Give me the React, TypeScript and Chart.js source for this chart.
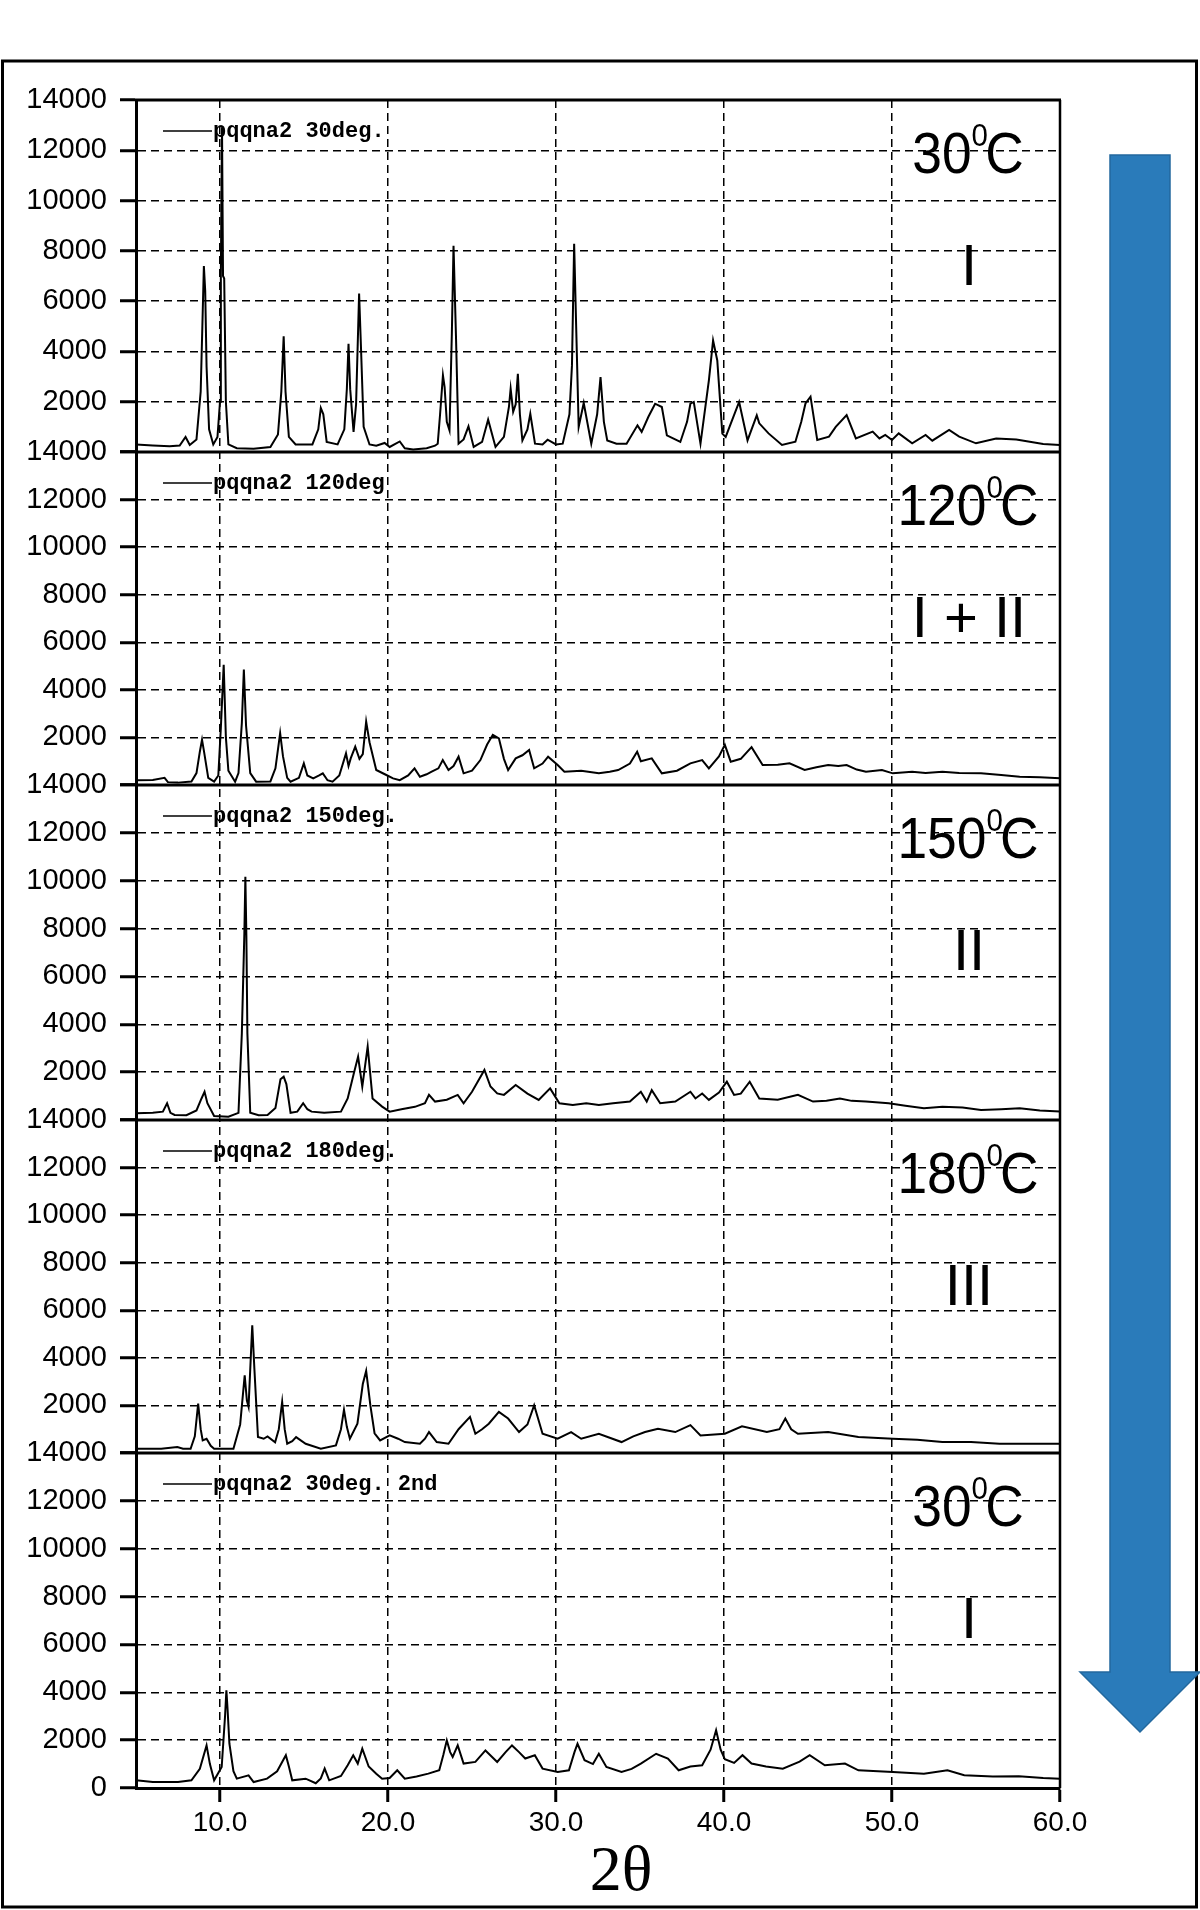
import React, { useEffect, useRef } from 'react';
import { Chart, registerables } from 'chart.js';

Chart.register(...registerables);

// ---- data (2θ, intensity) ----
const xrd30First: [number, number][] = [
  [5.0, 300], [6.0, 260], [7.0, 230], [7.6, 260], [7.95, 600], [8.2, 280], [8.6, 500], [8.85, 2400], [8.95, 5000],
  [9.04, 7400], [9.12, 6400], [9.2, 3400], [9.35, 900], [9.6, 300], [9.85, 600], [10.0, 2000], [10.05, 7000],
  [10.12, 12900], [10.18, 7000], [10.25, 6900], [10.35, 2000], [10.5, 300], [11.0, 150], [12.0, 130], [13.0, 200],
  [13.45, 700], [13.65, 2400], [13.79, 4600], [13.9, 2400], [14.1, 600], [14.5, 300], [15.5, 300], [15.85, 900],
  [16.0, 1750], [16.15, 1500], [16.35, 400], [17.0, 300], [17.4, 900], [17.55, 2500], [17.65, 4300], [17.75, 2500],
  [17.95, 800], [18.1, 1900], [18.28, 6300], [18.4, 4000], [18.55, 1000], [18.9, 300], [19.3, 250], [19.8, 360],
  [20.1, 200], [20.7, 420], [21.0, 150], [21.5, 100], [22.3, 150], [22.8, 250], [22.96, 330], [23.1, 1500],
  [23.27, 3050], [23.37, 2580], [23.5, 1200], [23.66, 860], [23.8, 4700], [23.9, 8200], [24.05, 4500], [24.2, 330],
  [24.5, 500], [24.79, 1020], [25.1, 200], [25.6, 400], [25.96, 1285], [26.4, 200], [26.9, 600], [27.2, 1800],
  [27.3, 2520], [27.45, 1600], [27.6, 1900], [27.73, 3110], [27.85, 1500], [28.0, 460], [28.3, 900], [28.47, 1520],
  [28.75, 330], [29.2, 300], [29.5, 490], [30.0, 300], [30.4, 330], [30.8, 1500], [30.95, 3445], [31.08, 8280],
  [31.2, 5000], [31.35, 1000], [31.65, 1950], [32.1, 330], [32.45, 1500], [32.65, 2980], [32.85, 1200], [33.05, 460],
  [33.6, 330], [34.2, 330], [34.85, 1060], [35.1, 800], [35.5, 1400], [35.9, 1920], [36.3, 1790], [36.6, 660],
  [37.4, 400], [37.8, 1200], [38.0, 1920], [38.2, 1990], [38.6, 330], [39.1, 2850], [39.35, 4440], [39.6, 3640],
  [39.9, 730], [40.1, 600], [40.5, 1300], [40.9, 1990], [41.4, 460], [41.95, 1460], [42.1, 1140], [42.65, 740],
  [43.45, 280], [44.25, 410], [44.6, 1200], [44.85, 1930], [45.15, 2200], [45.55, 480], [46.25, 610], [46.65, 1000],
  [47.3, 1470], [47.85, 540], [48.85, 810], [49.25, 540], [49.6, 680], [50.0, 480], [50.4, 740], [51.2, 345],
  [52.0, 680], [52.4, 450], [53.4, 875], [54.0, 610], [55.0, 345], [56.2, 540], [57.4, 500], [59.0, 320],
  [60.0, 280],
];

const xrd120: [number, number][] = [
  [5.0, 200], [6.0, 210], [6.7, 300], [6.9, 120], [7.5, 100], [8.3, 150], [8.6, 500], [8.8, 1400], [8.93, 1900],
  [9.05, 1400], [9.3, 300], [9.65, 140], [9.9, 400], [10.05, 2400], [10.22, 5050], [10.35, 2000], [10.5, 600],
  [10.9, 140], [11.1, 500], [11.3, 2600], [11.42, 4850], [11.55, 2500], [11.8, 500], [12.15, 140], [13.0, 150],
  [13.3, 700], [13.58, 2180], [13.75, 1200], [14.0, 300], [14.2, 140], [14.7, 300], [14.99, 910], [15.2, 400],
  [15.55, 280], [15.9, 400], [16.12, 490], [16.4, 200], [16.7, 140], [17.1, 400], [17.5, 1330], [17.65, 800],
  [17.78, 1120], [18.05, 1610], [18.3, 1100], [18.5, 1300], [18.7, 2670], [18.9, 1800], [19.3, 630], [19.9, 420],
  [20.3, 280], [20.7, 200], [21.2, 400], [21.58, 700], [21.9, 350], [22.3, 450], [22.6, 560], [23.0, 700],
  [23.26, 1050], [23.6, 630], [23.9, 800], [24.2, 1190], [24.5, 490], [25.0, 600], [25.5, 1050], [25.9, 1700],
  [26.24, 2110], [26.6, 1960], [26.9, 1100], [27.15, 630], [27.6, 1120], [28.0, 1250], [28.4, 1470], [28.7, 700],
  [29.2, 900], [29.53, 1190], [30.1, 840], [30.5, 560], [31.5, 600], [32.55, 490], [33.2, 560], [33.7, 630],
  [34.4, 900], [34.83, 1400], [35.05, 1000], [35.7, 1120], [36.3, 490], [37.2, 600], [38.0, 910], [38.7, 1050],
  [39.1, 700], [39.7, 1200], [40.05, 1690], [40.4, 980], [41.0, 1100], [41.64, 1590], [42.3, 840], [43.2, 850],
  [43.9, 910], [44.8, 630], [45.5, 750], [46.2, 840], [46.8, 800], [47.3, 840], [47.9, 650], [48.45, 560],
  [49.4, 630], [50.05, 490], [51.2, 560], [52.0, 500], [53.0, 560], [54.0, 500], [55.3, 490], [56.5, 420],
  [57.6, 350], [58.8, 330], [60.0, 280],
];

const xrd150: [number, number][] = [
  [5.0, 280], [6.0, 300], [6.6, 350], [6.85, 700], [7.05, 300], [7.3, 210], [8.0, 200], [8.6, 400], [8.9, 900],
  [9.08, 1180], [9.25, 700], [9.65, 170], [10.5, 140], [11.1, 300], [11.3, 3620], [11.45, 7800], [11.51, 10170],
  [11.57, 7700], [11.63, 3620], [11.8, 300], [12.3, 200], [12.83, 210], [13.3, 500], [13.6, 1700], [13.79, 1810],
  [13.95, 1500], [14.2, 300], [14.6, 350], [14.95, 700], [15.2, 450], [15.45, 350], [16.2, 300], [17.2, 350],
  [17.6, 900], [17.95, 1900], [18.22, 2650], [18.47, 1390], [18.79, 3065], [19.08, 900], [19.65, 560], [20.1, 350],
  [20.8, 450], [21.6, 550], [22.2, 700], [22.44, 1050], [22.8, 770], [23.5, 850], [24.15, 1050], [24.5, 700],
  [25.0, 1180], [25.74, 2090], [26.1, 1400], [26.5, 1110], [26.9, 1050], [27.6, 1460], [28.3, 1100], [28.97, 840],
  [29.65, 1320], [30.2, 700], [31.0, 630], [31.8, 700], [32.55, 630], [33.4, 700], [34.4, 770], [35.05, 1180],
  [35.4, 770], [35.7, 1250], [36.2, 700], [37.1, 770], [38.0, 1180], [38.3, 900], [38.7, 1110], [39.1, 840],
  [39.7, 1150], [40.17, 1600], [40.6, 1050], [41.0, 1100], [41.53, 1600], [42.1, 900], [43.2, 850], [44.4, 1050],
  [45.3, 770], [46.1, 800], [46.9, 900], [47.6, 800], [48.45, 770], [49.8, 700], [50.8, 600], [51.9, 490],
  [53.0, 550], [54.2, 520], [55.3, 420], [56.5, 450], [57.6, 490], [58.8, 400], [60.0, 350],
];

const xrd180: [number, number][] = [
  [5.0, 180], [6.5, 180], [7.46, 250], [7.8, 180], [8.25, 180], [8.5, 700], [8.7, 2080], [8.85, 1000], [8.97, 530],
  [9.2, 600], [9.45, 300], [9.65, 180], [10.8, 180], [11.2, 1200], [11.47, 3270], [11.6, 2200], [11.7, 1940],
  [11.85, 4300], [11.92, 5370], [12.05, 3500], [12.26, 670], [12.6, 600], [12.83, 700], [13.28, 450], [13.5, 1000],
  [13.7, 2150], [13.85, 1000], [14.0, 390], [14.3, 500], [14.53, 670], [15.1, 390], [16.0, 180], [16.9, 320],
  [17.2, 1000], [17.38, 1820], [17.55, 1100], [17.73, 600], [18.18, 1230], [18.5, 2900], [18.7, 3450], [18.95, 2000],
  [19.2, 830], [19.53, 530], [20.1, 740], [20.6, 600], [21.0, 460], [21.9, 390], [22.2, 600], [22.44, 880],
  [22.9, 460], [23.6, 390], [24.2, 1000], [24.88, 1520], [25.2, 810], [25.6, 1000], [26.0, 1230], [26.6, 1730],
  [27.15, 1450], [27.8, 880], [28.3, 1200], [28.7, 2010], [29.2, 810], [30.1, 600], [30.9, 880], [31.5, 600],
  [32.55, 810], [33.9, 460], [34.6, 700], [35.3, 880], [36.07, 1020], [37.1, 880], [38.0, 1170], [38.6, 740],
  [40.05, 810], [41.07, 1120], [42.55, 880], [43.3, 1000], [43.65, 1450], [44.0, 1000], [44.4, 810], [46.2, 880],
  [48.0, 670], [50.05, 600], [51.5, 560], [53.0, 460], [54.7, 460], [56.4, 390], [58.0, 390], [60.0, 390],
];

const xrd30Second: [number, number][] = [
  [5.0, 320], [6.0, 250], [7.5, 250], [8.3, 320], [8.8, 800], [9.2, 1780], [9.4, 1000], [9.65, 320], [10.1, 880],
  [10.3, 3000], [10.38, 4080], [10.45, 3300], [10.56, 1850], [10.8, 700], [11.0, 390], [11.7, 530], [12.0, 250],
  [12.8, 390], [13.4, 700], [13.92, 1370], [14.1, 900], [14.3, 320], [15.1, 390], [15.7, 200], [16.0, 400],
  [16.23, 810], [16.5, 320], [17.2, 500], [17.6, 950], [17.93, 1370], [18.2, 1020], [18.47, 1640], [18.85, 900],
  [19.3, 600], [19.65, 390], [20.1, 420], [20.55, 740], [21.0, 390], [21.7, 480], [22.4, 600], [23.05, 740],
  [23.3, 1400], [23.5, 1990], [23.7, 1500], [23.85, 1300], [24.15, 1780], [24.5, 1020], [25.2, 1090], [25.8, 1570],
  [26.5, 1090], [27.0, 1500], [27.38, 1780], [27.8, 1500], [28.17, 1230], [28.74, 1370], [29.2, 810], [30.1, 670],
  [30.77, 740], [31.1, 1500], [31.28, 1850], [31.7, 1160], [32.2, 1000], [32.55, 1430], [33.0, 880], [33.9, 670],
  [34.5, 800], [35.05, 1020], [35.96, 1430], [36.66, 1230], [37.3, 740], [38.0, 900], [38.7, 950], [39.2, 1600],
  [39.53, 2410], [39.8, 1600], [40.05, 1200], [40.6, 1050], [41.1, 1370], [41.64, 1020], [42.5, 900], [43.5, 810],
  [44.5, 1100], [45.1, 1370], [46.0, 950], [47.2, 1020], [48.0, 740], [50.05, 670], [51.9, 600], [53.3, 740],
  [54.3, 530], [56.0, 480], [57.55, 490], [59.0, 420], [60.0, 390],
];

const patterns = [xrd30First, xrd120, xrd150, xrd180, xrd30Second];
const legendLabels = ['pqqna2 30deg.', 'pqqna2 120deg', 'pqqna2 150deg.', 'pqqna2 180deg.', 'pqqna2 30deg. 2nd'];
const tempLabels = ['30', '120', '150', '180', '30'];
const phaseLabels = ['I', 'I + II', 'II', 'III', 'I'];
const xTickValues = [10, 20, 30, 40, 50, 60];
const yTickValues = [0, 2000, 4000, 6000, 8000, 10000, 12000, 14000];
const panelWeights = [352, 333, 335, 333, 335];
const xLabel = '2θ';

const SANS = '"Liberation Sans", Arial, sans-serif';
const SERIF = '"Liberation Serif", "Times New Roman", serif';
const MONO = '"Liberation Mono", "Courier New", monospace';
const panelIds = ['p1', 'p2', 'p3', 'p4', 'p5'];

function drawTemp(ctx: CanvasRenderingContext2D, cx: number, baseline: number, num: string) {
  const big = `58px ${SANS}`;
  const small = `32px ${SANS}`;
  ctx.save();
  ctx.font = big;
  const wNum = ctx.measureText(num).width;
  const wC = ctx.measureText('C').width;
  ctx.font = small;
  const wSup = ctx.measureText('0').width;
  const sx = 0.92;
  const gap = -3;
  const total = (wNum + wSup + gap + wC) * sx;
  ctx.translate(cx - total / 2, baseline);
  ctx.scale(sx, 1);
  ctx.fillStyle = '#000';
  ctx.textBaseline = 'alphabetic';
  ctx.textAlign = 'left';
  ctx.font = big;
  ctx.fillText(num, 0, 0);
  ctx.font = small;
  ctx.fillText('0', wNum, -27);
  ctx.font = big;
  ctx.fillText('C', wNum + wSup + gap, 0);
  ctx.restore();
}

const decorPlugin = {
  id: 'decor',
  afterDraw(chart: any) {
    const ctx: CanvasRenderingContext2D = chart.ctx;
    const area = chart.chartArea;
    ctx.save();
    ctx.strokeStyle = '#000';
    ctx.lineCap = 'butt';
    panelIds.forEach((id, i) => {
      const s = chart.scales[id];
      ctx.lineWidth = 3;
      ctx.beginPath();
      ctx.moveTo(area.left - 1, s.top);
      ctx.lineTo(area.right + 1, s.top);
      ctx.stroke();
      const top = s.top;
      ctx.lineWidth = 1.5;
      ctx.beginPath();
      ctx.moveTo(163, top + 31);
      ctx.lineTo(212, top + 31);
      ctx.stroke();
      ctx.fillStyle = '#000';
      ctx.font = `bold 22px ${MONO}`;
      ctx.textAlign = 'left';
      ctx.textBaseline = 'alphabetic';
      ctx.fillText(legendLabels[i], 213, top + 37);
      drawTemp(ctx, 968, top + 73, tempLabels[i]);
      ctx.font = `58px ${SANS}`;
      ctx.textAlign = 'center';
      ctx.fillText(phaseLabels[i], 969, top + 185);
    });
    ctx.lineWidth = 2.5;
    ctx.beginPath();
    ctx.moveTo(area.right, area.top);
    ctx.lineTo(area.right, area.bottom);
    ctx.stroke();
    ctx.fillStyle = '#000';
    ctx.font = `64px ${SERIF}`;
    ctx.textAlign = 'center';
    ctx.textBaseline = 'alphabetic';
    ctx.fillText(xLabel, 621, 1890);
    ctx.lineWidth = 3;
    ctx.strokeRect(2.5, 61, 1194, 1846);
    ctx.fillStyle = '#2A7BBA';
    ctx.strokeStyle = '#23689E';
    ctx.lineWidth = 1.5;
    ctx.beginPath();
    ctx.moveTo(1110, 155);
    ctx.lineTo(1170, 155);
    ctx.lineTo(1170, 1672);
    ctx.lineTo(1200, 1672);
    ctx.lineTo(1140, 1732);
    ctx.lineTo(1080, 1672);
    ctx.lineTo(1110, 1672);
    ctx.closePath();
    ctx.fill();
    ctx.stroke();
    ctx.restore();
  },
};

export default function App() {
  const ref = useRef<HTMLCanvasElement>(null);
  useEffect(() => {
    if (!ref.current) return;
    const scales: any = {
      x: {
        type: 'linear',
        axis: 'x',
        position: 'bottom',
        min: 5,
        max: 60,
        afterBuildTicks: (s: any) => {
          s.ticks = xTickValues.map((v) => ({ value: v }));
        },
        afterFit: (s: any) => {
          s.height = 80;
        },
        ticks: {
          callback: (v: any) => Number(v).toFixed(1),
          font: { family: SANS, size: 28 },
          color: '#000',
          padding: 4,
          maxRotation: 0,
          autoSkip: false,
        },
        grid: {
          color: (c: any) => (c.tick && c.tick.value === 60 ? 'rgba(0,0,0,0)' : '#000'),
          lineWidth: 1.5,
          tickLength: 14,
          tickWidth: 3,
          tickColor: '#000',
        },
        border: { display: true, color: '#000', width: 3, dash: [8, 5] },
      },
    };
    for (let i = 4; i >= 0; i--) {
      const last = i === 4;
      scales[panelIds[i]] = {
        type: 'linear',
        axis: 'y',
        position: 'left',
        stack: 'xrd',
        stackWeight: panelWeights[i],
        min: 0,
        max: 14000,
        afterBuildTicks: (s: any) => {
          s.ticks = yTickValues.map((v) => ({ value: v }));
        },
        afterFit: (s: any) => {
          s.width = 136;
        },
        ticks: {
          callback: (v: any) => (v === 0 && !last ? '' : String(v)),
          font: { family: SANS, size: 29 },
          color: '#000',
          padding: 13,
          autoSkip: false,
        },
        grid: {
          color: (c: any) =>
            c.tick && (c.tick.value === 0 || c.tick.value === 14000) ? 'rgba(0,0,0,0)' : '#000',
          lineWidth: 1.5,
          tickLength: 16,
          tickWidth: 3,
          tickColor: '#000',
        },
        border: { display: true, color: '#000', width: 3, dash: [8, 5] },
      };
    }
    const chart = new Chart(ref.current, {
      type: 'line',
      data: {
        datasets: patterns.map((p, i) => ({
          label: legendLabels[i],
          data: p.map(([x, y]) => ({ x, y })),
          xAxisID: 'x',
          yAxisID: panelIds[i],
          borderColor: '#000',
          borderWidth: 2,
          pointRadius: 0,
          tension: 0,
          fill: false,
        })),
      },
      options: {
        animation: false,
        responsive: false,
        devicePixelRatio: 1,
        events: [],
        layout: { padding: { left: 0, right: 140, top: 100, bottom: 42 } },
        plugins: { legend: { display: false }, tooltip: { enabled: false } },
        scales,
      },
      plugins: [decorPlugin],
    } as any);
    return () => chart.destroy();
  }, []);
  return (
    <div style={{ position: 'absolute', left: 0, top: 0, width: 1200, height: 1910, background: '#fff' }}>
      <canvas ref={ref} width={1200} height={1910} style={{ display: 'block', width: 1200, height: 1910 }} />
    </div>
  );
}
